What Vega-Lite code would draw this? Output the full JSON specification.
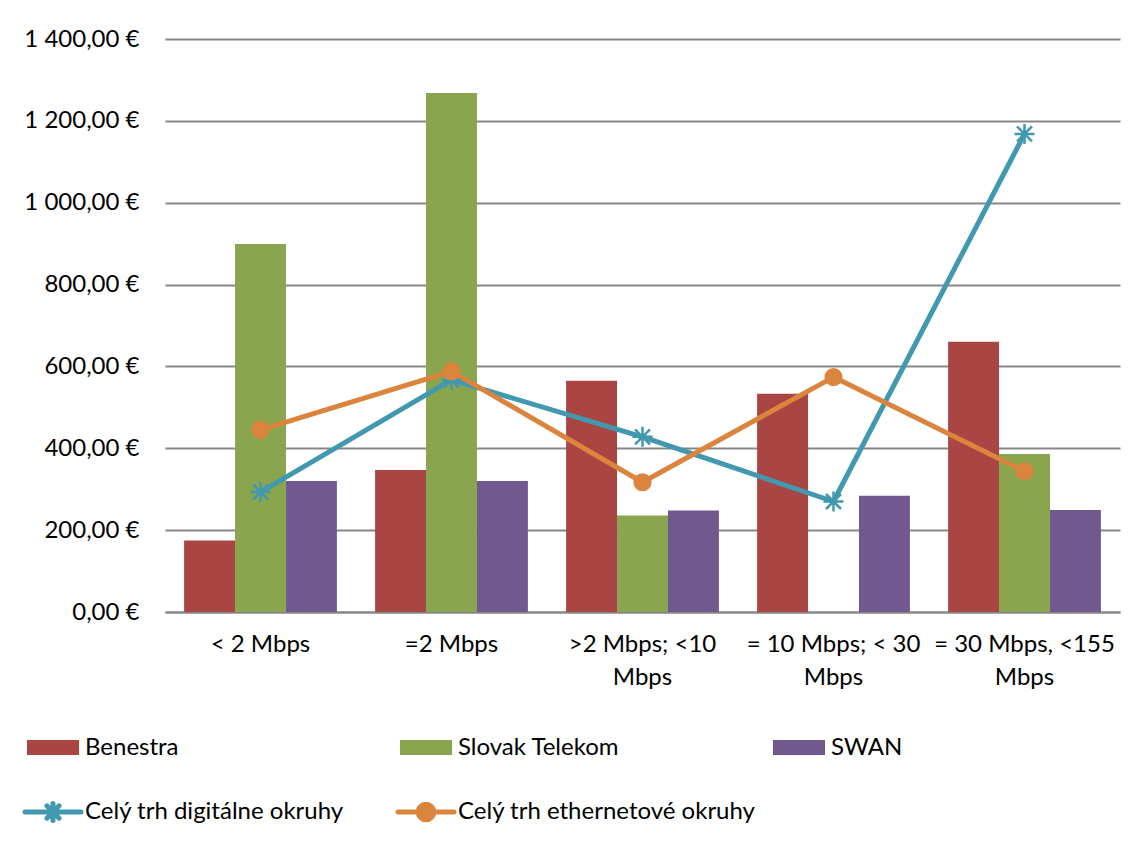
{
  "$schema": "https://vega.github.io/schema/vega-lite/v6.json",
  "width": 955,
  "height": 573,
  "autosize": {"type": "none"},
  "padding": {"left": 165, "top": 39, "right": 21, "bottom": 252},
  "background": "white",
  "config": {
    "font": "Lato",
    "view": {"stroke": null},
    "locale": {"number": {"decimal": ",", "thousands": " ", "grouping": [3], "currency": ["", " €"]}}
  },
  "data": {
    "values": [
      {"cat": "< 2 Mbps", "series": "Benestra", "value": 175},
      {"cat": "< 2 Mbps", "series": "Slovak Telekom", "value": 899},
      {"cat": "< 2 Mbps", "series": "SWAN", "value": 320},
      {"cat": "=2 Mbps", "series": "Benestra", "value": 347},
      {"cat": "=2 Mbps", "series": "Slovak Telekom", "value": 1268},
      {"cat": "=2 Mbps", "series": "SWAN", "value": 320},
      {"cat": ">2 Mbps; <10 Mbps", "series": "Benestra", "value": 565},
      {"cat": ">2 Mbps; <10 Mbps", "series": "Slovak Telekom", "value": 236},
      {"cat": ">2 Mbps; <10 Mbps", "series": "SWAN", "value": 248},
      {"cat": "= 10 Mbps; < 30 Mbps", "series": "Benestra", "value": 533},
      {"cat": "= 10 Mbps; < 30 Mbps", "series": "SWAN", "value": 284},
      {"cat": "= 30 Mbps, <155 Mbps", "series": "Benestra", "value": 660},
      {"cat": "= 30 Mbps, <155 Mbps", "series": "Slovak Telekom", "value": 386},
      {"cat": "= 30 Mbps, <155 Mbps", "series": "SWAN", "value": 249},
      {"cat": "< 2 Mbps", "series": "Celý trh digitálne okruhy", "value": 293},
      {"cat": "=2 Mbps", "series": "Celý trh digitálne okruhy", "value": 567},
      {"cat": ">2 Mbps; <10 Mbps", "series": "Celý trh digitálne okruhy", "value": 428},
      {"cat": "= 10 Mbps; < 30 Mbps", "series": "Celý trh digitálne okruhy", "value": 270},
      {"cat": "= 30 Mbps, <155 Mbps", "series": "Celý trh digitálne okruhy", "value": 1168},
      {"cat": "< 2 Mbps", "series": "Celý trh ethernetové okruhy", "value": 445},
      {"cat": "=2 Mbps", "series": "Celý trh ethernetové okruhy", "value": 588},
      {"cat": ">2 Mbps; <10 Mbps", "series": "Celý trh ethernetové okruhy", "value": 317},
      {"cat": "= 10 Mbps; < 30 Mbps", "series": "Celý trh ethernetové okruhy", "value": 574},
      {"cat": "= 30 Mbps, <155 Mbps", "series": "Celý trh ethernetové okruhy", "value": 344}
    ]
  },
  "encoding": {
    "x": {
      "field": "cat",
      "type": "nominal",
      "scale": {"domain": ["< 2 Mbps", "=2 Mbps", ">2 Mbps; <10 Mbps", "= 10 Mbps; < 30 Mbps", "= 30 Mbps, <155 Mbps"], "paddingInner": 0.2, "paddingOuter": 0.1},
      "axis": {
        "title": null,
        "labelAngle": 0,
        "labelFontSize": 24,
        "labelColor": "#000000",
        "labelPadding": 20,
        "labelLineHeight": 33,
        "labelLimit": 300,
        "ticks": false,
        "domainColor": "#878787",
        "domainWidth": 2,
        "labelExpr": "datum.value == '>2 Mbps; <10 Mbps' ? ['>2 Mbps; <10', 'Mbps'] : datum.value == '= 10 Mbps; < 30 Mbps' ? ['= 10 Mbps; < 30', 'Mbps'] : datum.value == '= 30 Mbps, <155 Mbps' ? ['= 30 Mbps, <155', 'Mbps'] : datum.value"
      }
    },
    "y": {
      "field": "value",
      "type": "quantitative",
      "scale": {"domain": [0, 1400], "nice": false},
      "axis": {
        "title": null,
        "values": [0, 200, 400, 600, 800, 1000, 1200, 1400],
        "format": "$,.2f",
        "labelFontSize": 24,
        "labelColor": "#000000",
        "labelPadding": 26,
        "ticks": false,
        "domain": false,
        "gridColor": "#878787",
        "gridWidth": 2
      }
    },
    "color": {
      "field": "series",
      "type": "nominal",
      "scale": {
        "domain": ["Benestra", "Slovak Telekom", "SWAN", "Celý trh digitálne okruhy", "Celý trh ethernetové okruhy"],
        "range": ["#A94543", "#89A54E", "#71588F", "#4198AF", "#DB843D"]
      },
      "legend": {
        "title": null,
        "orient": "none",
        "legendX": -124,
        "legendY": 693,
        "direction": "horizontal",
        "columns": 3,
        "gridAlign": "all",
        "columnPadding": 5,
        "rowPadding": 30,
        "labelFontSize": 24,
        "labelColor": "#000000",
        "labelOffset": 20,
        "labelLimit": 400,
        "symbolSize": 3136,
        "encode": {
          "symbols": {
            "update": {
              "shape": {"signal": "datum.value == 'Celý trh digitálne okruhy' ? 'M-1,0H1M0,-0.3V0.3M-0.22,-0.22L0.22,0.22M-0.22,0.22L0.22,-0.22' : datum.value == 'Celý trh ethernetové okruhy' ? 'M-1,0H1M0.28,0A0.28,0.28 0 1,1 -0.28,0A0.28,0.28 0 1,1 0.28,0Z' : 'M-0.93,-0.27H0.93V0.27H-0.93Z'"},
              "fill": {"signal": "datum.value == 'Benestra' ? '#A94543' : datum.value == 'Slovak Telekom' ? '#89A54E' : datum.value == 'SWAN' ? '#71588F' : datum.value == 'Celý trh ethernetové okruhy' ? '#DB843D' : 'transparent'"},
              "stroke": {"signal": "datum.value == 'Celý trh digitálne okruhy' ? '#4198AF' : datum.value == 'Celý trh ethernetové okruhy' ? '#DB843D' : 'transparent'"},
              "strokeWidth": {"signal": "datum.value == 'Celý trh digitálne okruhy' || datum.value == 'Celý trh ethernetové okruhy' ? 5 : 0"},
              "strokeCap": {"value": "round"},
              "opacity": {"value": 1},
              "size": {"value": 3136}
            }
          }
        }
      }
    }
  },
  "layer": [
    {
      "transform": [{"filter": "datum.series == 'Benestra' || datum.series == 'Slovak Telekom' || datum.series == 'SWAN'"}],
      "mark": {"type": "bar", "opacity": 1},
      "encoding": {
        "xOffset": {"field": "series", "type": "nominal", "scale": {"domain": ["Benestra", "Slovak Telekom", "SWAN"], "paddingInner": 0, "paddingOuter": 0}}
      }
    },
    {
      "transform": [{"filter": "datum.series == 'Celý trh digitálne okruhy' || datum.series == 'Celý trh ethernetové okruhy'"}],
      "mark": {"type": "line", "strokeWidth": 5, "strokeJoin": "round", "strokeCap": "round"}
    },
    {
      "transform": [{"filter": "datum.series == 'Celý trh digitálne okruhy'"}],
      "mark": {"type": "point", "filled": false, "opacity": 1, "strokeWidth": 2.5, "size": 400, "shape": "M0,-1V1M-0.75,-0.75L0.75,0.75M-0.75,0.75L0.75,-0.75M-1,0H1"}
    },
    {
      "transform": [{"filter": "datum.series == 'Celý trh ethernetové okruhy'"}],
      "mark": {"type": "point", "filled": true, "opacity": 1, "size": 330, "shape": "circle"}
    }
  ]
}
